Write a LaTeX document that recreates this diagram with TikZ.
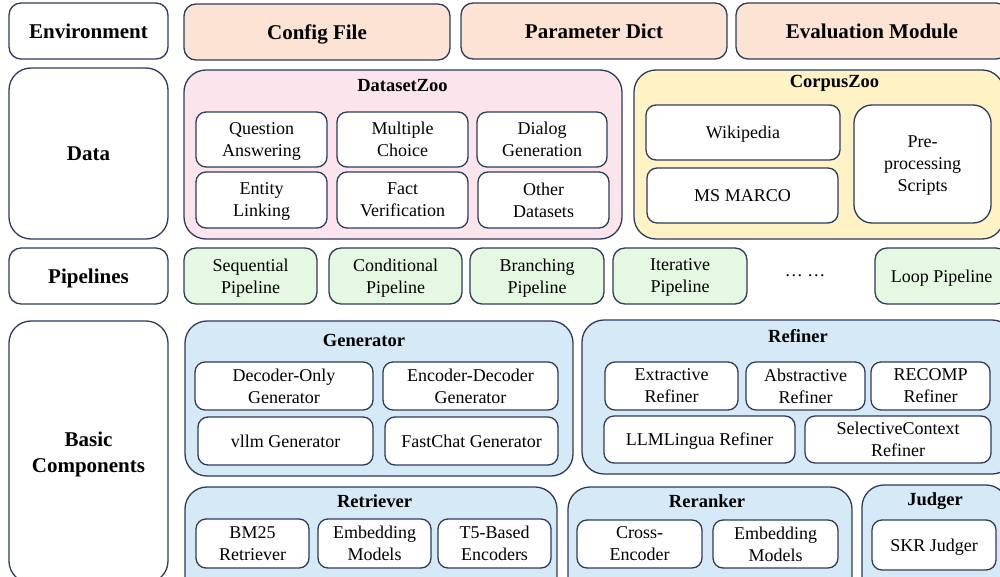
\documentclass[tikz,border=0pt]{standalone}
\usepackage{fontspec}
\setmainfont{Liberation Serif}
\usepackage{xcolor}
\usepackage{tikz}
\definecolor{edge}{HTML}{2E3B5B}
\definecolor{envfill}{HTML}{FDE3D4}
\definecolor{dsfill}{HTML}{FCE4EC}
\definecolor{cpfill}{HTML}{FFF2C4}
\definecolor{plfill}{HTML}{E5F8E1}
\definecolor{bcfill}{HTML}{D6E9F6}
\tikzset{
  frame/.style={draw=edge, line width=1.3pt, rounded corners=12pt, inner sep=0pt, align=center, text depth=0pt},
  layer/.style={frame, fill=white, font=\fontsize{21}{26}\selectfont\bfseries},
  outer/.style={frame, rounded corners=22pt},
  item/.style={frame, rounded corners=10pt, fill=white, font=\fontsize{18}{22}\selectfont},
  pipe/.style={frame, fill=plfill, font=\fontsize{18}{22}\selectfont},
  head/.style={font=\fontsize{21}{26}\selectfont\bfseries},
  sub/.style={font=\fontsize{18.5}{22}\selectfont\bfseries},
}

\begin{document}
\begin{tikzpicture}[x=1pt, y=-1pt]
  \useasboundingbox (0,0) rectangle (1000,577);
  \clip (0,0) rectangle (1000,577);

  % environment row
  \node[layer, minimum width=159pt, minimum height=56pt] (env) at (88.5,31) {Environment};
  \node[frame, head, fill=envfill, minimum width=266pt, minimum height=56pt] (cfg) at (317,32) {Config File};
  \node[frame, head, fill=envfill, minimum width=266pt, minimum height=56pt] (pdict) at (594,31) {Parameter Dict};
  \node[frame, head, fill=envfill, minimum width=272pt, minimum height=56pt] (evm) at (872,31) {Evaluation Module};

  % data row
  \node[layer, rounded corners=22pt, minimum width=159pt, minimum height=171pt] (data) at (88.5,153.5) {Data};
  \node[outer, fill=dsfill, minimum width=438pt, minimum height=169pt] (dzoo) at (403,154.5) {};
  \node[sub] (dzoot) at (402.5,86) {DatasetZoo};
  \node[item, minimum width=131pt, minimum height=55pt] (qa) at (261.5,139.5) {Question\\Answering};
  \node[item, minimum width=131pt, minimum height=55pt] (mc) at (402.5,139.5) {Multiple\\Choice};
  \node[item, minimum width=130pt, minimum height=55pt] (dg) at (542,139.5) {Dialog\\Generation};
  \node[item, minimum width=131pt, minimum height=56pt] (el) at (261.5,200) {Entity\\Linking};
  \node[item, minimum width=131pt, minimum height=56pt] (fv) at (402.5,200) {Fact\\Verification};
  \node[item, minimum width=131pt, minimum height=56pt] (od) at (543.5,200) {Other\\Datasets};

  \node[outer, fill=cpfill, minimum width=370pt, minimum height=169pt] (czoo) at (819,154.5) {};
  \node[sub] (czoot) at (834.5,83) {CorpusZoo};
  \node[item, minimum width=194pt, minimum height=55pt] (wiki) at (743,132.5) {Wikipedia};
  \node[item, minimum width=191pt, minimum height=55pt] (msm) at (742.5,195.5) {MS MARCO};
  \node[item, rounded corners=18pt, minimum width=137pt, minimum height=118pt] (prep) at (922.5,164) {Pre-\\processing\\Scripts};

  % pipelines row
  \node[layer, minimum width=159pt, minimum height=56pt] (pipes) at (88.5,276) {Pipelines};
  \node[pipe, minimum width=133pt, minimum height=56pt] (seq) at (250.5,276) {Sequential\\Pipeline};
  \node[pipe, minimum width=133pt, minimum height=56pt] (cond) at (395.5,276) {Conditional\\Pipeline};
  \node[pipe, minimum width=134pt, minimum height=56pt] (branch) at (537,276) {Branching\\Pipeline};
  \node[pipe, minimum width=134pt, minimum height=56pt] (iter) at (680,276) {Iterative\\Pipeline};
  \node[font=\fontsize{18}{22}\selectfont] (dots) at (805,276) {… …};
  \node[pipe, minimum width=133pt, minimum height=56pt] (loop) at (941.5,276) {Loop Pipeline};

  % basic components row
  \node[layer, rounded corners=22pt, minimum width=159pt, minimum height=262pt] (bc) at (88.5,452) {Basic\\Components};

  \node[outer, fill=bcfill, minimum width=388pt, minimum height=155pt] (gen) at (379,398.5) {};
  \node[sub] (gent) at (364,340) {Generator};
  \node[item, minimum width=178pt, minimum height=48pt] (dog) at (284,386) {Decoder-Only\\Generator};
  \node[item, minimum width=175pt, minimum height=48pt] (edg) at (470.5,386) {Encoder-Decoder\\Generator};
  \node[item, minimum width=175pt, minimum height=48pt] (vllm) at (285.5,441) {vllm Generator};
  \node[item, minimum width=173pt, minimum height=48pt] (fcg) at (471.5,441) {FastChat Generator};

  \node[outer, fill=bcfill, minimum width=432pt, minimum height=154pt] (ref) at (798,397) {};
  \node[sub] (reft) at (798,336) {Refiner};
  \node[item, minimum width=133pt, minimum height=48pt] (ext) at (671.5,386) {Extractive\\Refiner};
  \node[item, minimum width=119pt, minimum height=48pt] (abst) at (805.5,386) {Abstractive\\Refiner};
  \node[item, minimum width=119pt, minimum height=48pt] (rec) at (930.5,386) {RECOMP\\Refiner};
  \node[item, minimum width=191pt, minimum height=47pt] (llm) at (699.5,439.5) {LLMLingua Refiner};
  \node[item, minimum width=186pt, minimum height=47pt] (sel) at (898,439.5) {SelectiveContext\\Refiner};

  \node[outer, fill=bcfill, minimum width=372pt, minimum height=113pt] (ret) at (371,543.5) {};
  \node[sub] (rett) at (374.5,501) {Retriever};
  \node[item, minimum width=113pt, minimum height=49pt] (bm) at (252.5,543.5) {BM25\\Retriever};
  \node[item, minimum width=113pt, minimum height=49pt] (embr) at (374.5,543.5) {Embedding\\Models};
  \node[item, minimum width=113pt, minimum height=49pt] (tfive) at (494.5,543.5) {T5-Based\\Encoders};

  \node[outer, fill=bcfill, minimum width=284pt, minimum height=113pt] (rer) at (710,543.5) {};
  \node[sub] (rert) at (707,501) {Reranker};
  \node[item, minimum width=125pt, minimum height=48pt] (ce) at (639.5,544) {Cross-\\Encoder};
  \node[item, minimum width=125pt, minimum height=48pt] (embk) at (775.5,544) {Embedding\\Models};

  \node[outer, fill=bcfill, minimum width=146pt, minimum height=115pt] (jud) at (935,542.5) {};
  \node[sub] (judt) at (935,501) {Judger};
  \node[item, minimum width=124pt, minimum height=50pt] (skr) at (934,545) {SKR Judger};
\end{tikzpicture}
\end{document}
